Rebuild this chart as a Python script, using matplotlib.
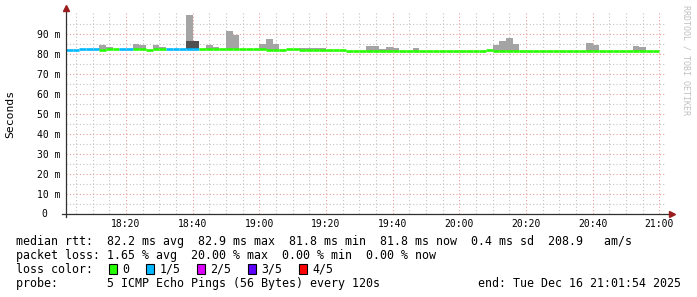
import numpy as np
import matplotlib
matplotlib.use("Agg")
import matplotlib.pyplot as plt
from matplotlib.patches import Rectangle
from matplotlib.transforms import blended_transform_factory

# one value per 2-minute probe, minutes counted from 18:02
step_start = np.arange(0, 178, 2)

median_ms = [82.2, 82.2, 82.5, 82.5, 82.5, 82.2, 82.5, 82.5, 82.5, 82.5,
             82.5, 82.5, 82.1, 82.5, 82.5, 82.5, 82.5, 82.5, 82.5, 82.5,
             82.6, 82.6, 82.6, 82.6, 82.6, 82.6, 82.6, 82.6, 82.6, 82.6,
             82.0, 82.0, 82.3, 82.8, 82.8, 82.0, 82.0, 82.0, 82.0, 82.0,
             82.0, 82.0, 81.8, 81.8, 81.8, 81.8, 81.8, 81.8, 81.8, 81.8,
             81.8, 81.8, 81.8, 81.8, 81.8, 81.8, 81.8, 81.8, 81.8, 81.8,
             81.8, 81.8, 81.8, 82.2, 81.8, 81.8, 81.8, 81.8, 81.8, 81.8,
             81.8, 81.8, 81.8, 81.8, 81.8, 81.8, 81.8, 81.8, 81.8, 81.8,
             81.8, 81.8, 81.8, 81.8, 81.8, 81.8, 81.8, 81.8, 81.8]

# pings lost out of 5
lost = [1, 1, 1, 1, 1, 0, 0, 0, 1, 1,
        0, 0, 0, 0, 0, 1, 1, 1, 1, 1] + [0] * 69

# top of the smoke (slowest ping), 0 = no smoke above median
smoke_top = [0, 0, 0, 0, 0, 84.8, 83.7, 0, 0, 0,
             85.2, 84.8, 0, 84.8, 83.7, 0, 0, 0, 99.8, 0,
             0, 84.8, 83.7, 0, 91.8, 89.8, 0, 0, 0, 85.2,
             87.7, 85.2, 0, 0, 0, 83.2, 83.2, 83.2, 83.2, 0,
             0, 0, 0, 0, 0, 84.2, 84.2, 82.6, 83.7, 83.3,
             0, 0, 83.0, 0, 0, 0, 0, 0, 0, 0,
             0, 0, 0, 0, 84.8, 86.8, 88.2, 85.3, 0, 0,
             0, 0, 0, 0, 0, 0, 0, 0, 85.8, 84.8,
             0, 0, 0, 0, 0, 84.3, 83.7, 0, 0]
smoke_dark = [0] * 18 + [86.5, 86.5] + [0] * 69

loss_colors = {0: "#26ff00", 1: "#00b8ff", 2: "#dd00ff", 3: "#5e00ff", 4: "#ff0000"}
loss_labels = ["0", "1/5", "2/5", "3/5", "4/5"]

x_ticks = np.arange(18, 180, 20)
x_labels = ["18:20", "18:40", "19:00", "19:20", "19:40", "20:00", "20:20", "20:40", "21:00"]
y_ticks = np.arange(0, 100, 10)
y_labels = [""] + [f"{v} m" for v in range(10, 100, 10)]

W, H = 697, 297
mono = "DejaVu Sans Mono"
plt.rcParams["font.family"] = mono

fig = plt.figure(figsize=(W / 100, H / 100), dpi=100)
ax = fig.add_axes([66 / W, (H - 214.3) / H, 600 / W, (214.3 - 12) / H])

med = np.array(median_ms)
top = np.array(smoke_top)
dark = np.array(smoke_dark)

ax.bar(step_start, np.clip(top - med, 0, None), bottom=med, width=2, align="edge",
       color="#a4a4a4", linewidth=0, zorder=2)
ax.bar(step_start, np.clip(dark - med, 0, None), bottom=med, width=2, align="edge",
       color="#505050", linewidth=0, zorder=3)
ax.hlines(med, step_start, step_start + 2, colors=[loss_colors[l] for l in lost],
          linewidth=1.9, zorder=4)

ax.set_xlim(0, 180)
ax.set_ylim(0, 101.15)
ax.set_xticks(x_ticks)
ax.set_xticklabels(x_labels)
ax.set_xticks(np.arange(3, 180, 5), minor=True)
ax.set_yticks(y_ticks)
ax.set_yticklabels(y_labels)
ax.set_yticks(np.arange(5, 100, 10), minor=True)
ax.tick_params(which="both", length=0, labelsize=7, colors="black")
ax.tick_params(axis="x", pad=3.5)
ax.tick_params(axis="y", pad=4)
ax.grid(which="major", color="#eb9c9c", linestyle=(0, (1, 2)), linewidth=0.8, zorder=0)
ax.grid(which="minor", color="#c4c4c4", linestyle=(0, (1, 2)), linewidth=0.8, zorder=0)
ax.set_axisbelow(True)
for s in ax.spines.values():
    s.set_visible(False)

# axes with arrow heads
ax.plot([-4 / 600, 1 + 4 / 600], [0, 0], transform=ax.transAxes, color="#303030",
        linewidth=0.9, clip_on=False, zorder=5)
ax.plot([0, 0], [-2.5 / 202.3, 1 + 2 / 202.3], transform=ax.transAxes, color="#303030",
        linewidth=0.9, clip_on=False, zorder=5)
ax.plot([1 + 6 / 600], [0], transform=ax.transAxes, marker=">", markersize=4,
        color="#9a1c1c", clip_on=False, zorder=6)
ax.plot([0], [1 + 4 / 202.3], transform=ax.transAxes, marker="^", markersize=4,
        color="#9a1c1c", clip_on=False, zorder=6)

yb = blended_transform_factory(fig.transFigure, ax.transData)
ax.text(44.7 / W, 0, "0", transform=yb, fontsize=7, ha="center", va="center")

fig.text(10.5 / W, (H - 113.5) / H, "Seconds", rotation=90, fontsize=8.2,
         ha="center", va="center")
fig.text(686 / W, (H - 60) / H, "RRDTOOL / TOBI OETIKER", rotation=270, fontsize=6,
         color="#c0c0c0", ha="center", va="center")

fs = 8.4
def row(x, y, s, ha="left"):
    fig.text(x / W, (H - y) / H, s, fontsize=fs, ha=ha, va="baseline")

row(16, 245.5, "median rtt:  82.2 ms avg  82.9 ms max  81.8 ms min  81.8 ms now  0.4 ms sd  208.9   am/s")
row(16, 259, "packet loss: 1.65 % avg  20.00 % max  0.00 % min  0.00 % now")
row(16, 273, "loss color:")
row(16, 287, "probe:       5 ICMP Echo Pings (56 Bytes) every 120s")
row(681, 287, "end: Tue Dec 16 21:01:54 2025", ha="right")

box_x = [109, 146, 197, 248, 299]
for bx, k, lab in zip(box_x, range(5), loss_labels):
    fig.patches.append(Rectangle((bx / W, (H - 274) / H), 8 / W, 10 / H,
                                 transform=fig.transFigure, facecolor=loss_colors[k],
                                 edgecolor="black", linewidth=0.8))
    row(bx + 13.5, 273, lab)

fig.savefig("out.png", dpi=100, facecolor="white")
